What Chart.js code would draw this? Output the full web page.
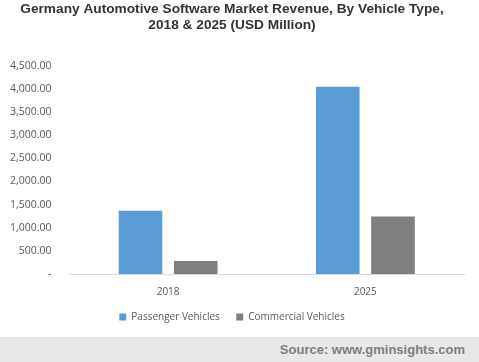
<!DOCTYPE html>
<html>
<head>
<meta charset="utf-8">
<script src="https://cdn.jsdelivr.net/npm/chart.js@4/dist/chart.umd.min.js"></script>
<style>
    html, body { margin: 0; padding: 0; background: #fff; }
    #wrap { position: relative; width: 479px; height: 337px; }
    #footer {
        width: 479px; height: 25px; background: #e8e8e8;
        font: bold 13px "Liberation Sans", Arial, sans-serif; color: #7f7f7f;
        text-align: right; box-sizing: border-box; padding-right: 14px; line-height: 25px;
    }
</style>
</head>
<body>
<div id="wrap"><canvas id="chart" width="479" height="337"></canvas></div>
<div id="footer">Source: www.gminsights.com</div>
<script>
// Dados
const categories = ['2018', '2025'];
const passengerVehicles = [1370, 4050];
const commercialVehicles = [280, 1245];
const yTicks = [0, 500, 1000, 1500, 2000, 2500, 3000, 3500, 4000, 4500];

function formatTick(v) {
    if (v === 0) return '-';
    return v.toLocaleString('en-US', { minimumFractionDigits: 2, maximumFractionDigits: 2 });
}

const chart = new Chart(document.getElementById('chart').getContext('2d'), {
    type: 'bar',
    data: {
        labels: categories,
        datasets: [{
            label: 'Passenger Vehicles',
            data: passengerVehicles,
            backgroundColor: '#5b9bd5'
        }, {
            label: 'Commercial Vehicles',
            data: commercialVehicles,
            backgroundColor: '#7f7f7f'
        }]
    },
    options: {
        responsive: false,
        animation: false,
        layout: { padding: { left: 0, right: 15, top: 0, bottom: 5 } },
        datasets: { bar: { categoryPercentage: 0.56, barPercentage: 0.79 } },
        plugins: {
            title: {
                display: true,
                text: ['Germany Automotive Software Market Revenue, By Vehicle Type,', '2018 & 2025 (USD Million)'],
                color: '#333333',
                font: { family: '"Liberation Sans", Arial, sans-serif', size: 13.7, weight: 'bold' },
                padding: { top: 1, bottom: 32 },
                lineHeight: 1.15
            },
            legend: {
                position: 'bottom',
                labels: {
                    boxWidth: 7, boxHeight: 7, color: '#595959',
                    font: { family: '"Open Sans", sans-serif', size: 10 },
                    padding: 6,
                    // espaço extra entre os itens da legenda
                    generateLabels: c => Chart.defaults.plugins.legend.labels.generateLabels(c)
                        .map((l, i) => i === 0 ? Object.assign(l, { text: l.text + '    ' }) : l)
                }
            },
            tooltip: { enabled: false }
        },
        scales: {
            x: {
                grid: { display: false },
                border: { color: '#d9d9d9' },
                ticks: { color: '#595959', font: { family: '"Open Sans", sans-serif', size: 10 }, padding: 4 },
                afterFit: scale => { scale.height += 4; }
            },
            y: {
                min: 0, max: 4500,
                afterBuildTicks: axis => { axis.ticks = yTicks.map(v => ({ value: v })); },
                grid: { display: false },
                border: { display: false },
                ticks: {
                    color: '#595959', font: { family: '"Open Sans", sans-serif', size: 10.5 },
                    padding: 10, callback: formatTick
                }
            }
        }
    }
});
</script>
</body>
</html>
